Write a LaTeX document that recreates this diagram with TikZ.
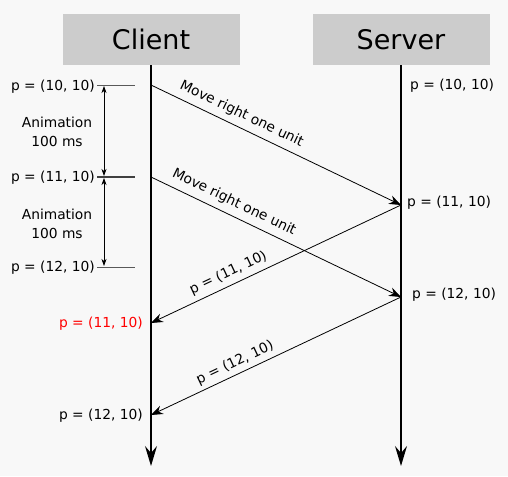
\documentclass[tikz,border=0pt]{standalone}
\usepackage{fontspec}
\setmainfont{DejaVu Sans}
\usetikzlibrary{arrows.meta,positioning}
\definecolor{bggray}{HTML}{F8F8F8}
\definecolor{boxgray}{HTML}{CCCCCC}
\definecolor{msgred}{HTML}{FF0000}

\begin{document}
\begin{tikzpicture}[x=1pt,y=-1pt,
  txt/.style={font=\fontsize{13.8}{17}\selectfont, inner sep=0pt},
  actor/.style={fill=boxgray, minimum width=177pt, minimum height=51pt, inner sep=0pt,
    font=\fontsize{27}{30}\selectfont},
  life/.style={line width=1.4pt, -{Stealth[length=20pt,width=12pt,inset=7pt]}},
  msg/.style={line width=0.8pt, -{Stealth[length=12pt,width=9pt,inset=4pt]}},
  span/.style={line width=0.7pt, {Stealth[length=7pt,width=5pt,inset=2pt]}-{Stealth[length=7pt,width=5pt,inset=2pt]}},
  tick/.style={line width=0.7pt, black!65}]
  \fill[bggray] (0,0) rectangle (508,476);
  % actors and lifelines
  \node[actor] (client) at (151,39.5) {Client};
  \node[actor] (server) at (401,39.5) {Server};
  \coordinate (cend) at (151,466);
  \coordinate (send) at (401,466);
  \draw[life] (client.south) -- (cend);
  \draw[life] (server.south) -- (send);
  % events on the lifelines
  \coordinate (c1) at (151,85);
  \coordinate (c2) at (151,177);
  \coordinate (c3) at (151,323);
  \coordinate (c4) at (151,415);
  \coordinate (s1) at (401,205);
  \coordinate (s2) at (401,297);
  % messages
  \draw[msg] (c1) -- node[txt, sloped, above=6pt, pos=0.34] {Move right one unit} (s1);
  \draw[msg] (c2) -- node[txt, sloped, above=6pt, pos=0.31] {Move right one unit} (s2);
  \draw[msg] (s1) -- node[txt, sloped, above=5pt, pos=0.67] {p = (11, 10)} (c3);
  \draw[msg] (s2) -- node[txt, sloped, above=4pt, pos=0.645] {p = (12, 10)} (c4);
  % client side positions
  \node[txt, anchor=east] (lp1) at (95,86.5) {p = (10, 10)};
  \node[txt, anchor=east] (lp2) at (95,177.5) {p = (11, 10)};
  \node[txt, anchor=east] (lp3) at (95,267.5) {p = (12, 10)};
  \coordinate (t1) at (135,85);
  \coordinate (t2) at (135,177);
  \coordinate (t3) at (135,267);
  \draw[tick] (97,85) -- (t1);
  \draw[line width=1.8pt, black!75] (97,177) -- (t2);
  \draw[tick] (97,267) -- (t3);
  \coordinate (a1) at (104,86);
  \coordinate (a2) at (104,176);
  \coordinate (a3) at (104,178);
  \coordinate (a4) at (104,266);
  \draw[span] (a1) -- (a2);
  \draw[span] (a3) -- (a4);
  \node[txt, align=center] (anim1) at (57,132) {Animation\\[2pt]100 ms};
  \node[txt, align=center] (anim2) at (57,224) {Animation\\[2pt]100 ms};
  \node[txt, anchor=east, text=msgred] (cp3) at (143,324) {p = (11, 10)};
  \node[txt, anchor=east] (cp4) at (143,416) {p = (12, 10)};
  % server side positions
  \node[txt, anchor=west] (sp1) at (410,85.5) {p = (10, 10)};
  \node[txt, anchor=west] (sp2) at (407,202.5) {p = (11, 10)};
  \node[txt, anchor=west] (sp3) at (412,294.5) {p = (12, 10)};
\end{tikzpicture}
\end{document}
